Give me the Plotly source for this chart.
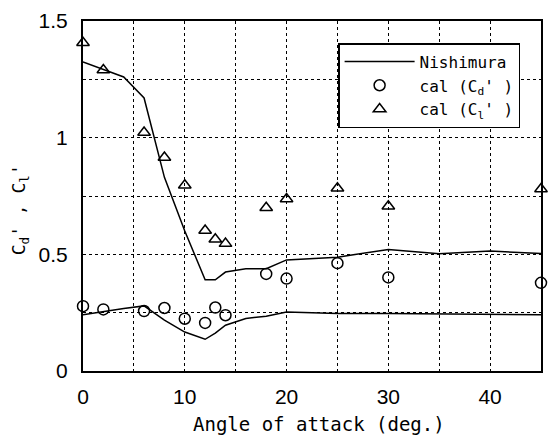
import plotly.graph_objects as go

# Nishimura reference curves
nish_x = [0, 2, 4, 6, 8, 10, 12, 13, 14, 16, 18, 20, 25, 30, 35, 40, 45]
nish_cl = [1.325, 1.293, 1.26, 1.17, 0.83, 0.60, 0.391, 0.391, 0.424, 0.438, 0.438, 0.476, 0.488, 0.521, 0.502, 0.514, 0.504]
nish_cd = [0.241, 0.255, 0.268, 0.279, 0.218, 0.167, 0.136, 0.162, 0.196, 0.225, 0.235, 0.253, 0.246, 0.246, 0.244, 0.242, 0.241]

# calculated points
cal_x = [0, 2, 6, 8, 10, 12, 13, 14, 18, 20, 25, 30, 45]
cal_cd = [0.278, 0.264, 0.257, 0.27, 0.224, 0.206, 0.272, 0.239, 0.416, 0.396, 0.462, 0.401, 0.378]
cal_cl = [1.407, 1.29, 1.022, 0.915, 0.796, 0.602, 0.565, 0.546, 0.70, 0.737, 0.783, 0.706, 0.78]

x_tickvals = [0, 10, 20, 30, 40]
x_ticktext = ["0", "10", "20", "30", "40"]
y_tickvals = [0, 0.5, 1.0, 1.5]
y_ticktext = ["0", "0.5", "1", "1.5"]

MONO = "DejaVu Sans Mono"
SANS = "Liberation Sans, Arial"

fig = go.Figure()
fig.add_trace(go.Scatter(x=nish_x, y=nish_cl, mode="lines", name="Nishimura",
                         line=dict(color="black", width=1.5), legendgroup="n"))
fig.add_trace(go.Scatter(x=nish_x, y=nish_cd, mode="lines", name="Nishimura",
                         line=dict(color="black", width=1.5), legendgroup="n", showlegend=False))
fig.add_trace(go.Scatter(x=cal_x, y=cal_cd, mode="markers", name="cal (C<sub>d</sub>' )",
                         marker=dict(symbol="circle-open", size=11, color="black", line=dict(width=1.5)),
                         cliponaxis=False))
fig.add_trace(go.Scatter(x=cal_x, y=cal_cl, mode="markers", name="cal (C<sub>l</sub>' )",
                         marker=dict(symbol="triangle-up-open", size=11, color="black", line=dict(width=1.5)),
                         cliponaxis=False))

grid_style = dict(showgrid=True, gridcolor="black", gridwidth=1, griddash="3px,3px")
axis_common = dict(showline=True, linecolor="black", linewidth=2, mirror=True,
                   zeroline=False, ticks="", tickfont=dict(family=SANS, size=21, color="black"),
                   **grid_style)

fig.update_xaxes(range=[0, 45], tickvals=x_tickvals, ticktext=x_ticktext, ticklabelstandoff=6,
                 minor=dict(dtick=5, ticks="", **grid_style), **axis_common)
fig.update_yaxes(range=[0, 1.5], tickvals=y_tickvals, ticktext=y_ticktext, ticklabelstandoff=9,
                 minor=dict(dtick=0.25, ticks="", **grid_style), **axis_common)

fig.add_annotation(text="Angle of attack (deg.)", xref="paper", yref="paper", x=0.515, y=-0.151,
                   xanchor="center", yanchor="middle", showarrow=False,
                   font=dict(family=MONO, size=19, color="black"))
fig.add_annotation(text="C<sub>d</sub>' , C<sub>l</sub>'", xref="paper", yref="paper", x=-0.137, y=0.46,
                   xanchor="center", yanchor="middle", showarrow=False, textangle=-90,
                   font=dict(family=MONO, size=18, color="black"))

fig.update_layout(
    width=549, height=443,
    margin=dict(l=83, r=6, t=21, b=72),
    paper_bgcolor="white", plot_bgcolor="white",
    legend=dict(x=0.557, y=0.937, xanchor="left", yanchor="top",
                bgcolor="white", bordercolor="black", borderwidth=1.5,
                font=dict(family=MONO, size=16, color="black"),
                itemwidth=70, tracegroupgap=0),
)

fig.write_html("out.html")
